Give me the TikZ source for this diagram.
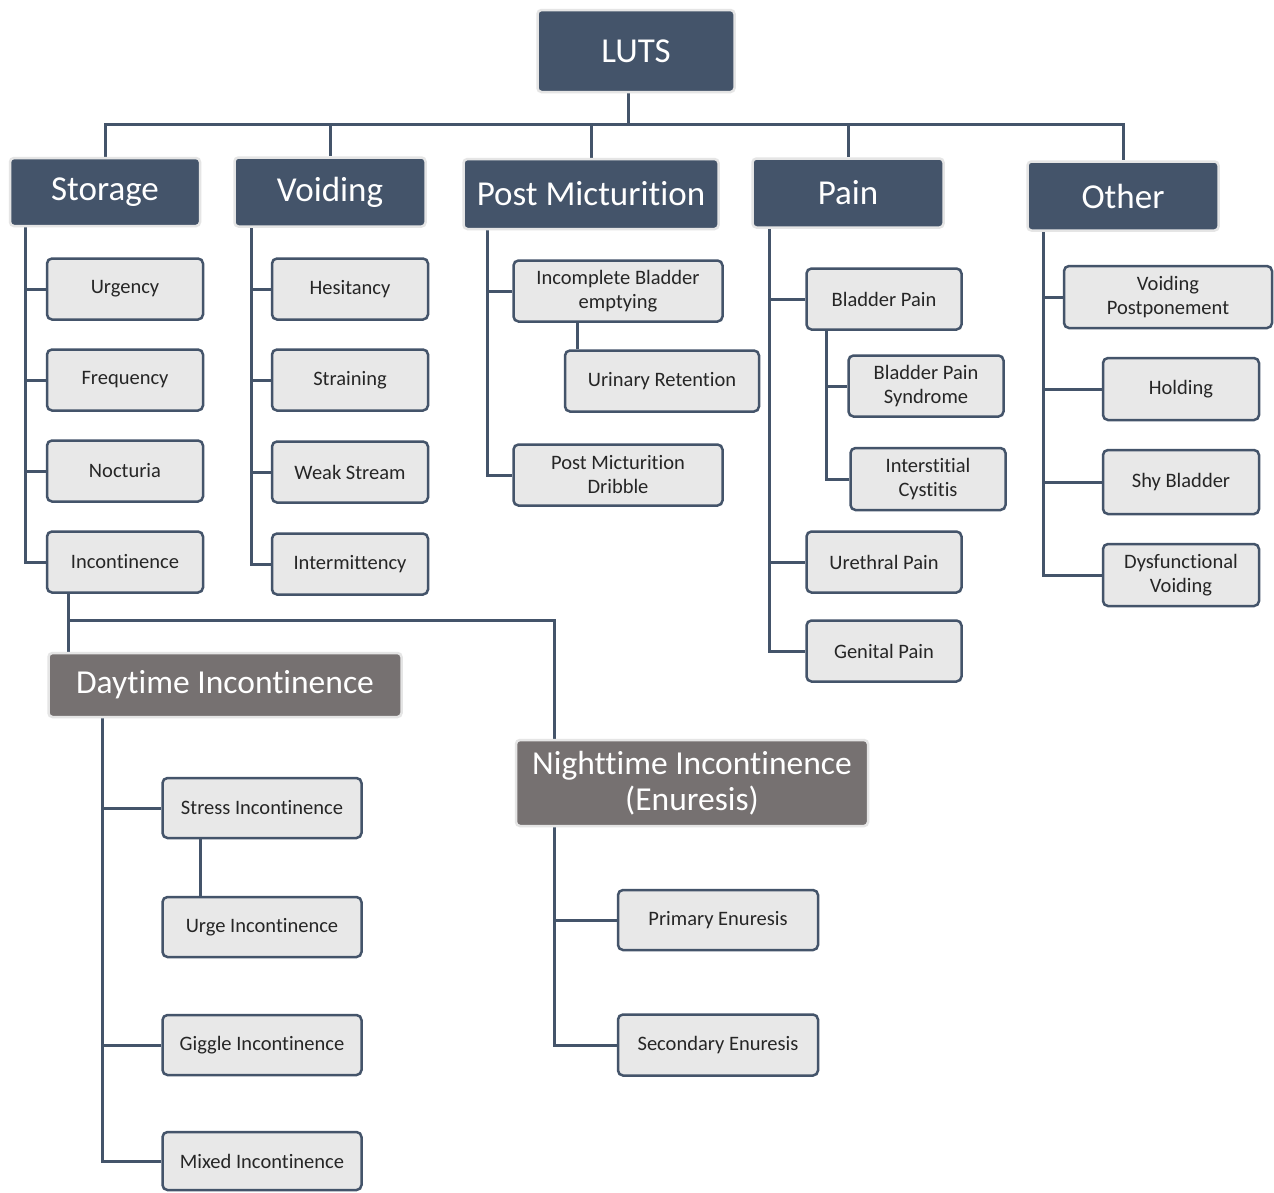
\documentclass[tikz,border=0pt]{standalone}
\usepackage{fontspec}
\setmainfont{Carlito}[RawFeature={-liga;-clig;-dlig}]
\usetikzlibrary{backgrounds}
\definecolor{hdr}{HTML}{44546A}
\definecolor{gry}{HTML}{767171}
\definecolor{lbox}{HTML}{E8E8E8}
\definecolor{txt}{HTML}{262626}
\begin{document}
\begin{tikzpicture}[x=1pt,y=-1pt,
 hbox/.style={draw=black!10, line width=2.5pt, fill=hdr, rounded corners=4pt, text=white, font=\fontsize{35}{40}\selectfont, inner sep=0pt, align=center},
 gbox/.style={hbox, fill=gry, font=\fontsize{33.5}{36}\selectfont},
 sbox/.style={draw=hdr, line width=2.5pt, fill=lbox, rounded corners=5pt, text=txt, font=\fontsize{20.5}{24}\selectfont, inner sep=0pt, align=center, minimum width=156pt, minimum height=61pt},
 conn/.style={draw=hdr, line width=3pt}]
\useasboundingbox (0,0) rectangle (1274,1192);
% headers
\node[hbox, minimum width=197pt, minimum height=82pt] (luts) at (636,51) {LUTS};
\node[hbox, minimum width=190pt, minimum height=68pt] (stor) at (105,192) {Storage};
\node[hbox, minimum width=191pt, minimum height=69pt] (void) at (330,192) {Voiding};
\node[hbox, minimum width=255pt, minimum height=70pt] (pm) at (591,194) {Post Micturition};
\node[hbox, minimum width=191pt, minimum height=69pt] (pain) at (848,193) {Pain};
\node[hbox, minimum width=191pt, minimum height=69pt] (oth) at (1123,196) {Other};
% storage
\node[sbox] (urg) at (125,289) {Urgency};
\node[sbox] (freq) at (125,380) {Frequency};
\node[sbox] (noct) at (125,471) {Nocturia};
\node[sbox] (inc) at (125,562) {Incontinence};
% voiding
\node[sbox] (hes) at (350,289) {Hesitancy};
\node[sbox] (strn) at (350,380) {Straining};
\node[sbox] (weak) at (350,472) {Weak Stream};
\node[sbox] (inter) at (350,564) {Intermittency};
% post micturition
\node[sbox, minimum width=209pt] (ibe) at (618,291) {Incomplete Bladder\\emptying};
\node[sbox, minimum width=194pt] (uret) at (662,381) {Urinary Retention};
\node[sbox, minimum width=209pt] (pmd) at (618,475) {Post Micturition\\Dribble};
% pain
\node[sbox, minimum width=155pt] (bp) at (884,299) {Bladder Pain};
\node[sbox, minimum width=155pt] (bps) at (926,386) {Bladder Pain\\Syndrome};
\node[sbox, minimum width=155pt, minimum height=62pt] (ic) at (928,479) {Interstitial\\Cystitis};
\node[sbox, minimum width=155pt] (ure) at (884,562) {Urethral Pain};
\node[sbox, minimum width=155pt] (gen) at (884,651) {Genital Pain};
% other
\node[sbox, minimum width=208pt, minimum height=62pt] (vp) at (1168,297) {Voiding\\Postponement};
\node[sbox, minimum height=62pt] (hold) at (1181,389) {Holding};
\node[sbox, minimum height=64pt] (shy) at (1181,482) {Shy Bladder};
\node[sbox, minimum height=62pt] (dys) at (1181,575) {Dysfunctional\\Voiding};
% incontinence
\node[gbox, minimum width=353pt, minimum height=64pt] (day) at (225,685) {Daytime Incontinence};
\node[gbox, minimum width=352pt, minimum height=86pt] (night) at (692,783) {Nighttime Incontinence\\(Enuresis)};
\node[sbox, minimum width=199pt, minimum height=60pt] (stress) at (262,808) {Stress Incontinence};
\node[sbox, minimum width=199pt, minimum height=60pt] (urge) at (262,927) {Urge Incontinence};
\node[sbox, minimum width=199pt, minimum height=60pt] (giggle) at (262,1045) {Giggle Incontinence};
\node[sbox, minimum width=199pt, minimum height=58pt] (mixed) at (262,1161) {Mixed Incontinence};
\node[sbox, minimum width=200pt, minimum height=60pt] (prim) at (718,920) {Primary Enuresis};
\node[sbox, minimum width=200pt, minimum height=61pt] (sec) at (718,1045) {Secondary Enuresis};
% connectors
\begin{scope}[on background layer]
\fill[white] (0,0) rectangle (1274,1192);
\coordinate (bar) at (0,124);
\coordinate (bar2) at (0,620);
\coordinate (lutsx) at ([xshift=-8pt]luts.south);
\draw[conn] (lutsx) -- (lutsx |- bar);
\draw[conn] (stor.north) -- (stor.north |- bar) -- (oth.north |- bar) -- (oth.north);
\foreach \n in {void,pm,pain} \draw[conn] (\n.north) -- (\n.north |- bar);
\foreach \c in {urg,freq,noct,inc} \draw[conn] ([xshift=17pt]stor.south west) |- (\c.west);
\foreach \c in {hes,strn,weak,inter} \draw[conn] ([xshift=18pt]void.south west) |- (\c.west);
\foreach \c in {ibe,pmd} \draw[conn] ([xshift=25.5pt]pm.south west) |- (\c.west);
\coordinate (ibex) at ([xshift=65pt]ibe.south west);
\draw[conn] (ibex) -- (ibex |- uret.north);
\foreach \c in {bp,ure,gen} \draw[conn] ([xshift=18.5pt]pain.south west) |- (\c.west);
\foreach \c in {bps,ic} \draw[conn] ([xshift=21.5pt]bp.south west) |- (\c.west);
\foreach \c in {vp,hold,shy,dys} \draw[conn] ([xshift=17.5pt]oth.south west) |- (\c.west);
\coordinate (incx) at ([xshift=23pt]inc.south west);
\coordinate (nightx) at ([xshift=40pt]night.north west);
\draw[conn] (incx) -- (incx |- day.north);
\draw[conn] (incx |- bar2) -| (nightx);
\foreach \c in {stress,giggle,mixed} \draw[conn] ([xshift=55.5pt]day.south west) |- (\c.west);
\coordinate (stressx) at ([xshift=39.5pt]stress.south west);
\draw[conn] (stressx) -- (stressx |- urge.north);
\foreach \c in {prim,sec} \draw[conn] ([xshift=40pt]night.south west) |- (\c.west);
\end{scope}
\end{tikzpicture}
\end{document}
